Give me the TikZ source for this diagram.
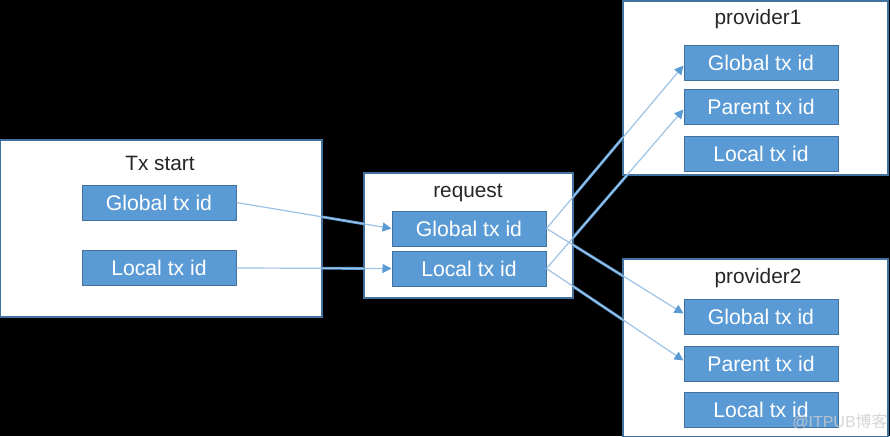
\documentclass[tikz,border=0pt]{standalone}
\usepackage{fontspec}
\setmainfont{Liberation Sans}
\newfontfamily\cjkfont{Noto Sans CJK SC}
\usetikzlibrary{arrows.meta}
\pgfdeclarelayer{under}
\pgfsetlayers{under,main}
\definecolor{boxblue}{HTML}{5B9BD5}
\definecolor{edgeblue}{HTML}{41719C}
\definecolor{lineblue}{HTML}{9DC3E6}
\tikzset{
  outerbox/.style={draw=edgeblue, line width=1pt, fill=white, inner sep=0pt},
  idbox/.style={draw=edgeblue, line width=0.5pt, fill=boxblue, text=white, inner sep=0pt,
    minimum width=77pt, minimum height=17.5pt, font=\fontsize{10.6}{12}\selectfont},
  boxtitle/.style={text=black!85, font=\fontsize{10.4}{12}\selectfont},
  link/.style={draw=lineblue, line width=0.6pt, -{Triangle[length=4.5pt,width=4.5pt,color=boxblue]}},
  linkglow/.style={draw=boxblue, line width=1.4pt}
}
\begin{document}
\begin{tikzpicture}[x=0.5pt,y=-0.5pt]
    \clip (0,0) rectangle (890,436);

    % Tx start
    \node [outerbox, minimum width=161pt, minimum height=88.5pt] (tx) at (161,228.5) {};
    \node [boxtitle] (txt) at (160,163) {Tx start};
    \node [idbox] (txg) at (159,202.5) {Global tx id};
    \node [idbox] (txl) at (159,268) {Local tx id};

    % request
    \node [outerbox, minimum width=104.5pt, minimum height=62.5pt] (req) at (468.5,235.5) {};
    \node [boxtitle] (reqt) at (468,193) {request};
    \node [idbox] (reqg) at (469,228.5) {Global tx id};
    \node [idbox] (reql) at (469,268.5) {Local tx id};

    % provider1
    \node [outerbox, minimum width=132.5pt, minimum height=87pt] (pa) at (755.5,88) {};
    \node [boxtitle] (pat) at (758,19) {provider1};
    \node [idbox] (pag) at (761,62.5) {Global tx id};
    \node [idbox] (pap) at (761,106.5) {Parent tx id};
    \node [idbox] (pal) at (761,153.5) {Local tx id};

    % provider2
    \node [outerbox, minimum width=132.5pt, minimum height=89pt] (pb) at (755.5,348) {};
    \node [boxtitle] (pbt) at (758,278) {provider2};
    \node [idbox] (pbg) at (761,316.5) {Global tx id};
    \node [idbox] (pbp) at (761,363.5) {Parent tx id};
    \node [idbox] (pbl) at (761,410) {Local tx id};

    \draw [link] (txg.east) -- (reqg.west);
    \draw [link] (txl.east) -- (reql.west);
    \draw [link] (reqg.east) -- ([yshift=-1.5pt]pag.west);
    \draw [link] (reql.east) -- ([yshift=-1.5pt]pap.west);
    \draw [link] (reqg.east) -- ([yshift=1.5pt]pbg.west);
    \draw [link] (reql.east) -- ([yshift=1.5pt]pbp.west);

    % where the lines cross the black they look heavier
    \begin{pgfonlayer}{under}
      \fill [black] (0,0) rectangle (890,436);
      \draw [linkglow] (txg.east) -- (reqg.west);
      \draw [linkglow] (txl.east) -- (reql.west);
      \draw [linkglow] (reqg.east) -- ([yshift=-1.5pt]pag.west);
      \draw [linkglow] (reql.east) -- ([yshift=-1.5pt]pap.west);
      \draw [linkglow] (reqg.east) -- ([yshift=1.5pt]pbg.west);
      \draw [linkglow] (reql.east) -- ([yshift=1.5pt]pbp.west);
    \end{pgfonlayer}

    \node [text=white!60!gray, opacity=0.8, font=\fontsize{8}{10}\selectfont] (mark) at (840,422) {@ITPUB{\cjkfont 博客}};
\end{tikzpicture}
\end{document}
